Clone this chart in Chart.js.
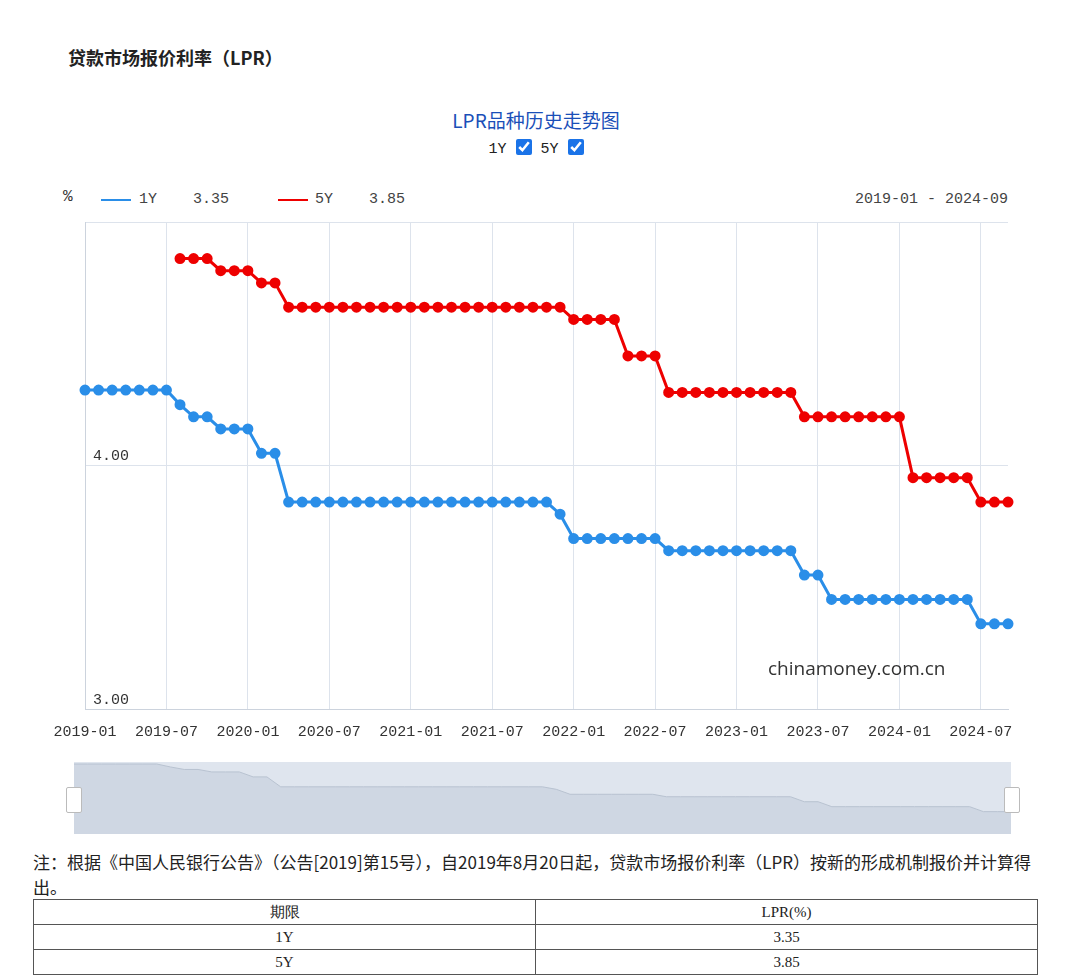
<!DOCTYPE html>
<html><head><meta charset="utf-8">
<script src="https://cdn.jsdelivr.net/npm/chart.js@4/dist/chart.umd.min.js"></script>
<style>
body{margin:0;width:1072px;height:979px;background:#fff;position:relative;font-family:"Noto Sans CJK SC",serif;overflow:hidden}
.a{position:absolute}
.mono{font-family:"Liberation Mono","DejaVu Sans Mono",monospace}
table{border-collapse:collapse;font-size:15px;color:#222}
td{border:1px solid #555;text-align:center;height:24px;padding:0;font-family:"Liberation Serif",serif}
input{margin:0;width:16px;height:16px;accent-color:#1a73e8;vertical-align:-2px}
</style></head><body>
<div class="a" style="left:68px;top:44px;font-size:18px;font-weight:bold;color:#222">贷款市场报价利率（LPR）</div>
<div class="a" style="left:0;width:1072px;top:106px;text-align:center;font-size:19px;color:#1a4fb8">LPR品种历史走势图</div>
<div class="a mono" style="left:0;width:1072px;top:139px;text-align:center;font-size:15px;color:#222">1Y <input type="checkbox" checked> 5Y <input type="checkbox" checked></div>
<div class="a mono" style="left:63px;top:188px;font-size:16px;color:#333">%</div>
<div class="a" style="left:101px;top:199px;width:30px;height:2px;background:#2a8ee8"></div>
<div class="a mono" style="left:139px;top:191px;font-size:15px;color:#444">1Y&nbsp;&nbsp;&nbsp;&nbsp;3.35</div>
<div class="a" style="left:278px;top:199px;width:30px;height:2px;background:#e00"></div>
<div class="a mono" style="left:315px;top:191px;font-size:15px;color:#444">5Y&nbsp;&nbsp;&nbsp;&nbsp;3.85</div>
<div class="a mono" style="right:64px;top:191px;font-size:15px;color:#444">2019-01 - 2024-09</div>
<div class="a" style="left:0;top:205px;width:1072px;height:550px"><canvas id="c"></canvas></div>
<div class="a" style="left:768px;top:655px;font-size:19px;color:#333;font-family:'Open Sans',sans-serif">chinamoney.com.cn</div>
<div class="a" style="left:74px;top:762px;width:937px;height:72px;background:#dfe5ee"><canvas id="n"></canvas></div>
<div class="a" style="left:66px;top:787px;width:14px;height:24px;background:#fff;border:1px solid #bbb;border-radius:2px"></div>
<div class="a" style="left:1004px;top:787px;width:14px;height:24px;background:#fff;border:1px solid #bbb;border-radius:2px"></div>
<div class="a" style="left:33px;top:849px;width:1000px;font-size:17px;color:#222;line-height:25px">注：根据《中国人民银行公告》（公告[2019]第15号），自2019年8月20日起，贷款市场报价利率（LPR）按新的形成机制报价并计算得出。</div>
<table class="a" style="left:33px;top:899px;width:1005px"><tr><td style="width:50%">期限</td><td>LPR(%)</td></tr><tr><td>1Y</td><td>3.35</td></tr><tr><td>5Y</td><td>3.85</td></tr></table>
<script>
const months=[];for(let y=2019;y<=2024;y++)for(let m=1;m<=12;m++){if(y===2024&&m>9)break;months.push(y+'-'+String(m).padStart(2,'0'));}
const lpr1Y=[4.31,4.31,4.31,4.31,4.31,4.31,4.31,4.25,4.20,4.20,4.15,4.15,
4.15,4.05,4.05,3.85,3.85,3.85,3.85,3.85,3.85,3.85,3.85,3.85,
3.85,3.85,3.85,3.85,3.85,3.85,3.85,3.85,3.85,3.85,3.85,3.80,
3.70,3.70,3.70,3.70,3.70,3.70,3.70,3.65,3.65,3.65,3.65,3.65,
3.65,3.65,3.65,3.65,3.65,3.55,3.55,3.45,3.45,3.45,3.45,3.45,
3.45,3.45,3.45,3.45,3.45,3.45,3.35,3.35,3.35];
const lpr5Y=[null,null,null,null,null,null,null,4.85,4.85,4.85,4.80,4.80,
4.80,4.75,4.75,4.65,4.65,4.65,4.65,4.65,4.65,4.65,4.65,4.65,
4.65,4.65,4.65,4.65,4.65,4.65,4.65,4.65,4.65,4.65,4.65,4.65,
4.60,4.60,4.60,4.60,4.45,4.45,4.45,4.30,4.30,4.30,4.30,4.30,
4.30,4.30,4.30,4.30,4.30,4.20,4.20,4.20,4.20,4.20,4.20,4.20,
4.20,3.95,3.95,3.95,3.95,3.95,3.85,3.85,3.85];
const show=i=>i%6===0;
new Chart(document.getElementById('c'),{type:'line',
data:{labels:months,datasets:[
{data:lpr1Y,borderColor:'#2a8ee8',backgroundColor:'#2a8ee8',borderWidth:3,pointRadius:4,pointHoverRadius:4,tension:0},
{data:lpr5Y,borderColor:'#ee0000',backgroundColor:'#ee0000',borderWidth:3,pointRadius:4,pointHoverRadius:4,tension:0}]},
options:{responsive:true,maintainAspectRatio:false,animation:false,
layout:{padding:{left:69,right:64,top:12,bottom:0}},
plugins:{legend:{display:false},tooltip:{enabled:false}},
scales:{
x:{offset:false,border:{color:'#ccd3dd'},grid:{color:c=>show(c.index)?'#dde3ec':'rgba(0,0,0,0)',drawTicks:false},
ticks:{autoSkip:false,maxRotation:0,padding:14,color:'#333',font:{family:'Liberation Mono',size:15},callback:(v,i)=>show(i)?months[i]:''}},
y:{min:3,max:5,border:{color:'#ccd3dd'},grid:{color:'#dde3ec',drawTicks:false},
ticks:{stepSize:1,mirror:true,padding:8,labelOffset:-9,color:'#333',font:{family:'Liberation Mono',size:15},callback:v=>v===5?'':v.toFixed(2)}}}}});
new Chart(document.getElementById('n'),{type:'line',
data:{labels:months,datasets:[{data:lpr1Y,borderColor:'#b8c2d0',backgroundColor:'#cfd7e3',fill:'origin',borderWidth:1,pointRadius:0}]},
options:{responsive:true,maintainAspectRatio:false,animation:false,layout:{padding:0},
plugins:{legend:{display:false},tooltip:{enabled:false}},
scales:{x:{display:false,offset:false},y:{display:false,min:2.9,max:4.35}}}});
</script></body></html>
